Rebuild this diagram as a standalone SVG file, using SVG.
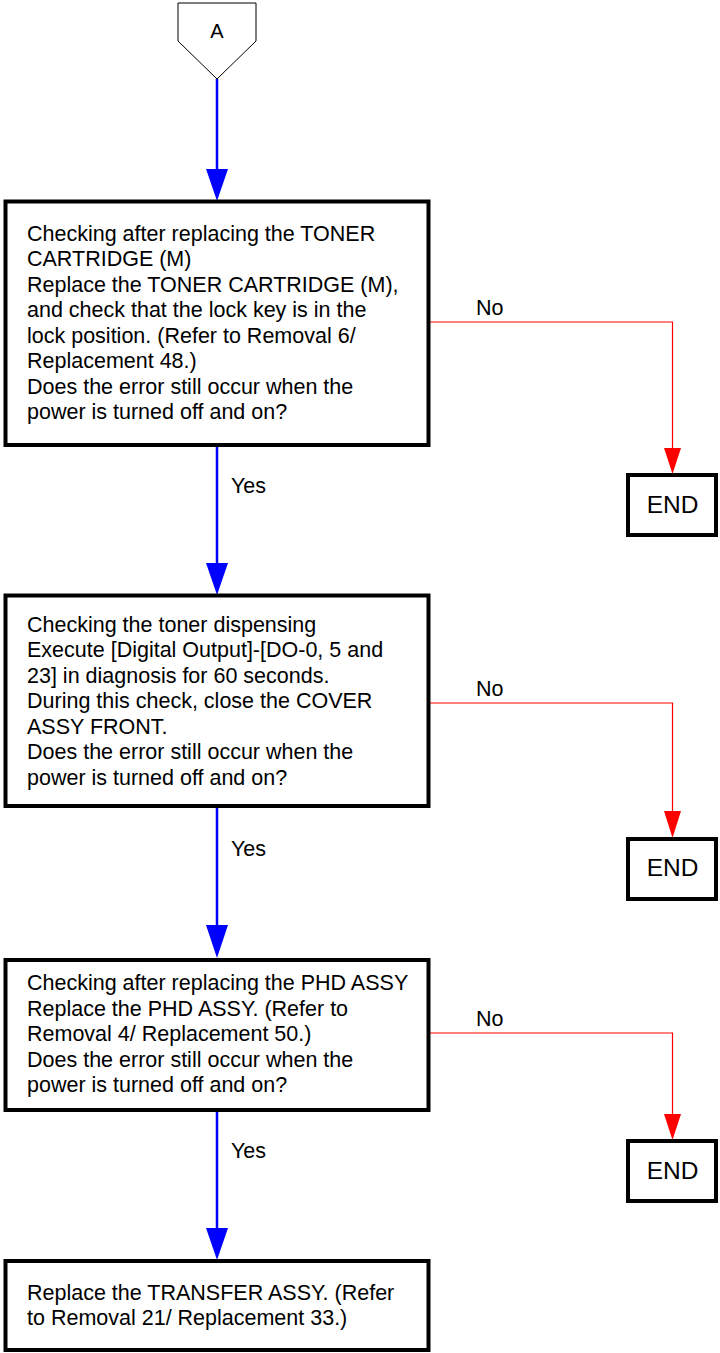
<svg xmlns="http://www.w3.org/2000/svg" width="720" height="1353" viewBox="0 0 720 1353">
<style>
.box{fill:#fff;stroke:#000;stroke-width:4}
.t{font-family:"Liberation Sans",Arial,sans-serif;font-size:21.5px;fill:#000}
.e{font-family:"Liberation Sans",Arial,sans-serif;font-size:24.5px;fill:#000;text-anchor:middle}
.a{font-family:"Liberation Sans",Arial,sans-serif;font-size:20px;fill:#000;text-anchor:middle}
.blue{stroke:#0000ff;stroke-width:2.5;fill:none}
.red{stroke:#ff0000;stroke-width:1.2;fill:none}
.bh{fill:#0000ff}
.rh{fill:#ff0000}
</style>
<rect width="720" height="1353" fill="#fff"/>
<g id="connectors">
<line class="blue" x1="217" y1="79" x2="217" y2="172"/>
<polygon class="bh" points="206,169 228,169 217,201"/>
<line class="blue" x1="217" y1="445" x2="217" y2="566"/>
<polygon class="bh" points="206,563 228,563 217,595"/>
<line class="blue" x1="217" y1="806" x2="217" y2="928"/>
<polygon class="bh" points="206,925 228,925 217,958"/>
<line class="blue" x1="217" y1="1110" x2="217" y2="1231"/>
<polygon class="bh" points="206,1228 228,1228 217,1260"/>
<polyline class="red" points="430,322 672.5,322 672.5,450"/>
<polygon class="rh" points="664,448 681,448 672.5,474"/>
<polyline class="red" points="430,703 672.5,703 672.5,813"/>
<polygon class="rh" points="664,811 681,811 672.5,838"/>
<polyline class="red" points="430,1033 672.5,1033 672.5,1116"/>
<polygon class="rh" points="664,1114 681,1114 672.5,1140"/>
<text class="t" x="231" y="493">Yes</text>
<text class="t" x="231" y="856">Yes</text>
<text class="t" x="231" y="1158">Yes</text>
<text class="t" x="476" y="315">No</text>
<text class="t" x="476" y="696">No</text>
<text class="t" x="476" y="1026">No</text>
</g>
<g id="startA">
<polygon points="178,3 256,3 256,41 217,79 178,41" fill="#fff" stroke="#000" stroke-width="1"/>
<text class="a" x="217" y="38">A</text>
</g>
<g id="box1">
<rect class="box" x="5.5" y="201.5" width="423" height="243.5"/>
<text class="t" x="27" y="240.5">Checking after replacing the TONER</text>
<text class="t" x="27" y="266">CARTRIDGE (M)</text>
<text class="t" x="27" y="291.5">Replace the TONER CARTRIDGE (M),</text>
<text class="t" x="27" y="317">and check that the lock key is in the</text>
<text class="t" x="27" y="342.5">lock position. (Refer to Removal 6/</text>
<text class="t" x="27" y="368">Replacement 48.)</text>
<text class="t" x="27" y="393.5">Does the error still occur when the</text>
<text class="t" x="27" y="419">power is turned off and on?</text>
</g>
<g id="end1">
<rect class="box" x="628" y="475" width="88" height="60"/>
<text class="e" x="672.5" y="513">END</text>
</g>
<g id="box2">
<rect class="box" x="5.5" y="595.5" width="423" height="210.5"/>
<text class="t" x="27" y="631.5">Checking the toner dispensing</text>
<text class="t" x="27" y="657">Execute [Digital Output]-[DO-0, 5 and</text>
<text class="t" x="27" y="682.5">23] in diagnosis for 60 seconds.</text>
<text class="t" x="27" y="708">During this check, close the COVER</text>
<text class="t" x="27" y="733.5">ASSY FRONT.</text>
<text class="t" x="27" y="759">Does the error still occur when the</text>
<text class="t" x="27" y="784.5">power is turned off and on?</text>
</g>
<g id="end2">
<rect class="box" x="628" y="839" width="88" height="60"/>
<text class="e" x="672.5" y="876">END</text>
</g>
<g id="box3">
<rect class="box" x="5.5" y="960" width="423" height="150"/>
<text class="t" x="27" y="990">Checking after replacing the PHD ASSY</text>
<text class="t" x="27" y="1015.5">Replace the PHD ASSY. (Refer to</text>
<text class="t" x="27" y="1041">Removal 4/ Replacement 50.)</text>
<text class="t" x="27" y="1066.5">Does the error still occur when the</text>
<text class="t" x="27" y="1092">power is turned off and on?</text>
</g>
<g id="end3">
<rect class="box" x="628" y="1141" width="88" height="60"/>
<text class="e" x="672.5" y="1179">END</text>
</g>
<g id="box4">
<rect class="box" x="5.5" y="1261" width="423" height="89"/>
<text class="t" x="27" y="1300">Replace the TRANSFER ASSY. (Refer</text>
<text class="t" x="27" y="1325">to Removal 21/ Replacement 33.)</text>
</g>
</svg>
